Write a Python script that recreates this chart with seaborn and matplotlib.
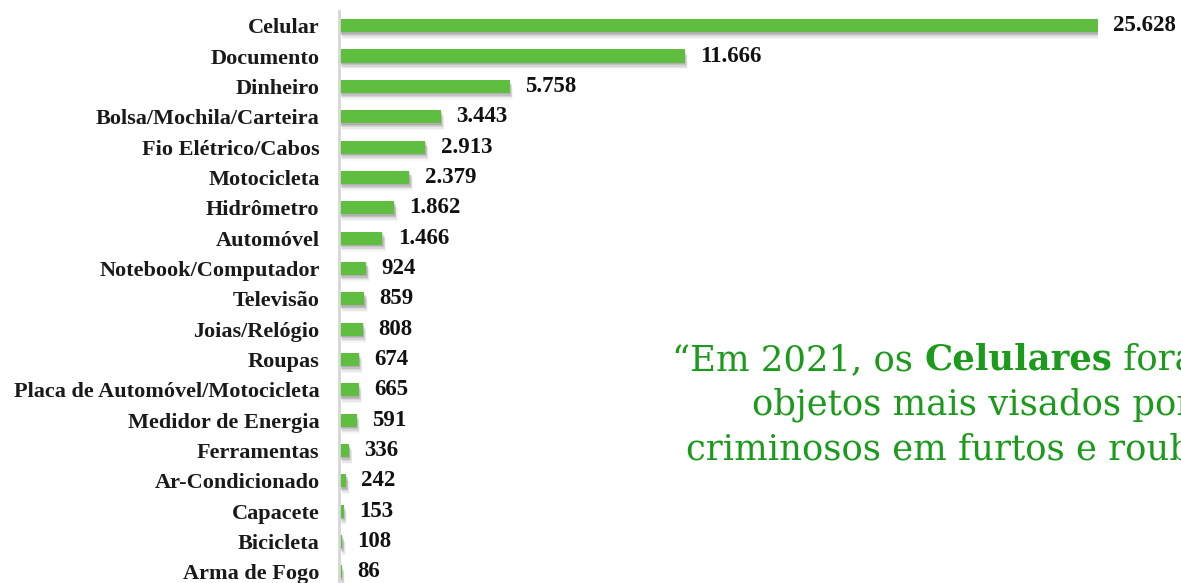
import matplotlib
matplotlib.use("Agg")
import matplotlib.pyplot as plt
import matplotlib.patheffects as pe
import seaborn as sns
import pandas as pd

categories = [
    "Celular", "Documento", "Dinheiro", "Bolsa/Mochila/Carteira",
    "Fio Elétrico/Cabos", "Motocicleta", "Hidrômetro", "Automóvel",
    "Notebook/Computador", "Televisão", "Joias/Relógio", "Roupas",
    "Placa de Automóvel/Motocicleta", "Medidor de Energia", "Ferramentas",
    "Ar-Condicionado", "Capacete", "Bicicleta", "Arma de Fogo",
]
values = [25628, 11666, 5758, 3443, 2913, 2379, 1862, 1466, 924, 859,
          808, 674, 665, 591, 336, 242, 153, 108, 86]
value_labels = ["25.628", "11.666", "5.758", "3.443", "2.913", "2.379",
                "1.862", "1.466", "924", "859", "808", "674", "665", "591",
                "336", "242", "153", "108", "86"]

quote_lines = ["objetos mais visados por", "criminosos em furtos e roubos\u201d"]

df = pd.DataFrame({"item": categories, "total": values})

sns.set_theme(style="white")
plt.rcParams["font.family"] = ["Liberation Serif", "DejaVu Serif"]

W, H = 1181, 583
fig = plt.figure(figsize=(W / 100, H / 100), dpi=100)
fig.patch.set_facecolor("white")

# axes box in pixel terms: x from the axis line to the end of the longest bar
x0, x1 = 339, 1098
y_top, y_bot = 10.5, 587.0
ax = fig.add_axes([x0 / W, 1 - y_bot / H, (x1 - x0) / W, (y_bot - y_top) / H])

sns.barplot(data=df, x="total", y="item", orient="h", color="#5fbd3f",
            saturation=1, width=0.43, ax=ax)

# soft drop shadow under each bar, built from a few faint layers
shadow = [pe.SimplePatchShadow(offset=(dx, dy), shadow_rgbFace="#333333", alpha=a)
          for dx, dy, a in [(0.5, -1, 0.12), (1, -2, 0.12), (1.5, -3, 0.10),
                            (2, -4, 0.07), (2.5, -5, 0.04)]]
for p in ax.patches:
    p.set_edgecolor("none")
    p.set_path_effects(shadow + [pe.Normal()])

ax.set_xlim(0, max(values))
ax.set_ylim(len(categories) - 0.5, -0.5)
ax.set_xlabel("")
ax.set_ylabel("")
ax.set_xticks([])
ax.tick_params(axis="y", length=0, pad=14)
for lab in ax.get_yticklabels():
    lab.set_fontweight("bold")
    lab.set_fontsize(16)
    lab.set_color("#1a1a1a")

for s in ["top", "right", "bottom"]:
    ax.spines[s].set_visible(False)
ax.spines["left"].set_color("#d6d6d6")
ax.spines["left"].set_linewidth(2)

for i, (v, t) in enumerate(zip(values, value_labels)):
    ax.annotate(t, xy=(v, i), xytext=(11, 0), textcoords="offset points",
                ha="left", va="center", fontsize=16.5, fontweight="bold",
                color="#111111", annotation_clip=False)

# highlighted quote, running past the right edge of the figure
green = "#1b9a1b"
qsize = 25.5
qfam = ["DejaVu Serif"]
t1 = fig.text(672 / W, 1 - 360 / H, "\u201cEm 2021, os ", fontsize=qsize,
              family=qfam, color=green, ha="left", va="center")
t2 = ax.annotate("Celulares", xy=(1, 0), xycoords=t1, ha="left", va="bottom",
                 fontsize=qsize, family=qfam, fontweight="bold", color=green)
ax.annotate(" foram os", xy=(1, 0), xycoords=t2, ha="left", va="bottom",
            fontsize=qsize, family=qfam, color=green)
fig.text(752 / W, 1 - 405 / H, quote_lines[0], fontsize=qsize, family=qfam,
         color=green, ha="left", va="center")
fig.text(686 / W, 1 - 450 / H, quote_lines[1], fontsize=qsize, family=qfam,
         color=green, ha="left", va="center")

fig.savefig("out.png", dpi=100, facecolor="white")
